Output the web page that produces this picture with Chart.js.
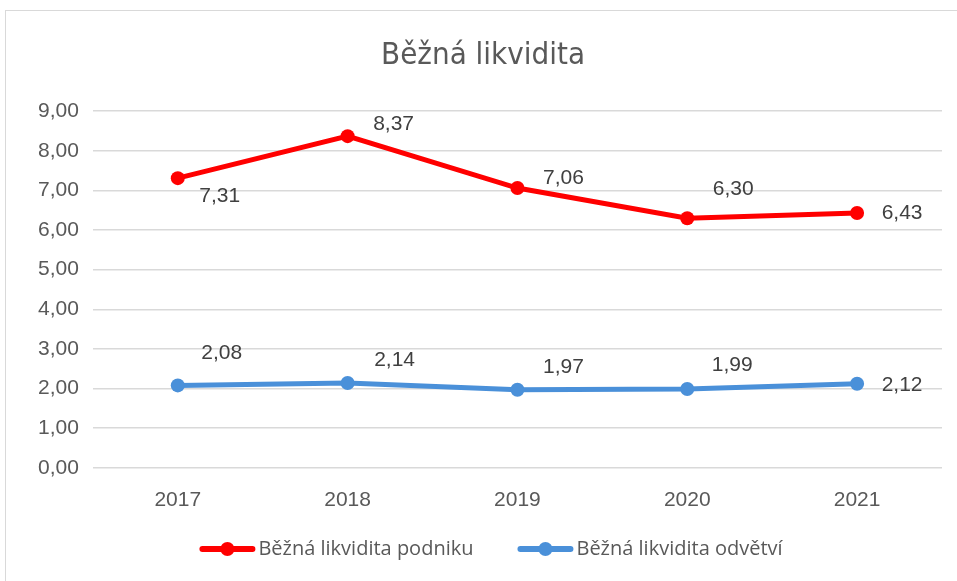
<!DOCTYPE html>
<html>
<head>
<meta charset="utf-8">
<script src="https://cdn.jsdelivr.net/npm/chart.js@4"></script>
<style>
  html, body { margin: 0; padding: 0; background: #fff; overflow: hidden; }
  #frame { position: absolute; left: 5px; top: 10px; width: 960px; height: 580px; border: 1px solid #d9d9d9; box-sizing: border-box; }
  #wrap { position: absolute; left: 0; top: 0; width: 958px; height: 578px; }
</style>
</head>
<body>
<div id="frame"><div id="wrap"><canvas id="chart"></canvas></div></div>
<script>
// data
const years = ['2017', '2018', '2019', '2020', '2021'];
const podnik = [7.31, 8.37, 7.06, 6.30, 6.43];
const odvetvi = [2.08, 2.14, 1.97, 1.99, 2.12];
const yTicks = [0, 1, 2, 3, 4, 5, 6, 7, 8, 9];

const fmt = v => v.toFixed(2).replace('.', ',');

// label offsets from the point (dx, dy)
const labelOffsets = [
    [[42, 18], [46, -12], [46, -10], [46, -29], [45, 0]],
    [[44, -32], [47, -23], [46, -23], [45, -24], [45, 1]]
];

const valueLabels = {
    id: 'valueLabels',
    afterDatasetsDraw(chart) {
        const ctx = chart.ctx;
        ctx.save();
        ctx.font = '21px "Liberation Sans", Arial, sans-serif';
        ctx.fillStyle = '#404040';
        ctx.textAlign = 'center';
        ctx.textBaseline = 'middle';
        chart.data.datasets.forEach((ds, i) => {
            chart.getDatasetMeta(i).data.forEach((pt, j) => {
                const off = labelOffsets[i][j];
                ctx.fillText(fmt(ds.data[j]), pt.x + off[0], pt.y + off[1]);
            });
        });
        ctx.restore();
    }
};

// legend drawn by hand: line with a dot, then the name
const lineLegend = {
    id: 'lineLegend',
    afterDraw(chart) {
        const ctx = chart.ctx;
        const lineW = 56, gap = 3, itemGap = 44;
        const y = chart.height - 40;
        ctx.save();
        ctx.font = '20px "Open Sans", sans-serif';
        const items = chart.data.datasets.map(ds => ({
            ds, w: ctx.measureText(ds.label).width
        }));
        const total = items.reduce((s, it) => s + lineW + gap + it.w, 0) + itemGap * (items.length - 1);
        let x = chart.width / 2 - total / 2 + 6;
        ctx.textBaseline = 'middle';
        items.forEach(it => {
            ctx.strokeStyle = it.ds.borderColor;
            ctx.fillStyle = it.ds.borderColor;
            ctx.lineWidth = 6;
            ctx.lineCap = 'round';
            ctx.beginPath();
            ctx.moveTo(x + 3, y);
            ctx.lineTo(x + lineW - 3, y);
            ctx.stroke();
            ctx.beginPath();
            ctx.arc(x + lineW / 2, y, 7, 0, Math.PI * 2);
            ctx.fill();
            ctx.fillStyle = '#595959';
            ctx.fillText(it.ds.label, x + lineW + gap, y);
            x += lineW + gap + it.w + itemGap;
        });
        ctx.restore();
    }
};

new Chart(document.getElementById('chart'), {
    type: 'line',
    data: {
        labels: years,
        datasets: [
            {
                label: 'Běžná likvidita podniku',
                data: podnik,
                borderColor: '#ff0000',
                backgroundColor: '#ff0000',
                borderWidth: 5,
                pointRadius: 7,
                pointBorderWidth: 0,
                tension: 0
            },
            {
                label: 'Běžná likvidita odvětví',
                data: odvetvi,
                borderColor: '#4a90d9',
                backgroundColor: '#4a90d9',
                borderWidth: 5,
                pointRadius: 7,
                pointBorderWidth: 0,
                tension: 0
            }
        ]
    },
    options: {
        responsive: true,
        maintainAspectRatio: false,
        animation: false,
        layout: { padding: { left: 18, right: 22, top: 10, bottom: 64 } },
        scales: {
            x: {
                offset: true,
                grid: { display: false },
                border: { display: false },
                ticks: { color: '#595959', font: { size: 21, family: '"Liberation Sans", Arial' }, padding: 12 }
            },
            y: {
                min: 0,
                max: 9,
                afterBuildTicks(axis) { axis.ticks = yTicks.map(v => ({ value: v })); },
                grid: { color: '#d9d9d9', lineWidth: 1.5, drawTicks: false },
                border: { display: false },
                ticks: {
                    color: '#595959',
                    font: { size: 21, family: '"Liberation Sans", Arial' },
                    padding: 14,
                    callback: v => fmt(v)
                }
            }
        },
        plugins: {
            title: {
                display: true,
                text: 'Běžná likvidita',
                color: '#595959',
                font: { size: 31, weight: 'normal', family: '"DejaVu Sans Condensed", "Open Sans", sans-serif' },
                padding: { top: 16, bottom: 37 }
            },
            legend: { display: false },
            tooltip: { enabled: false }
        }
    },
    plugins: [valueLabels, lineLegend]
});
</script>
</body>
</html>
